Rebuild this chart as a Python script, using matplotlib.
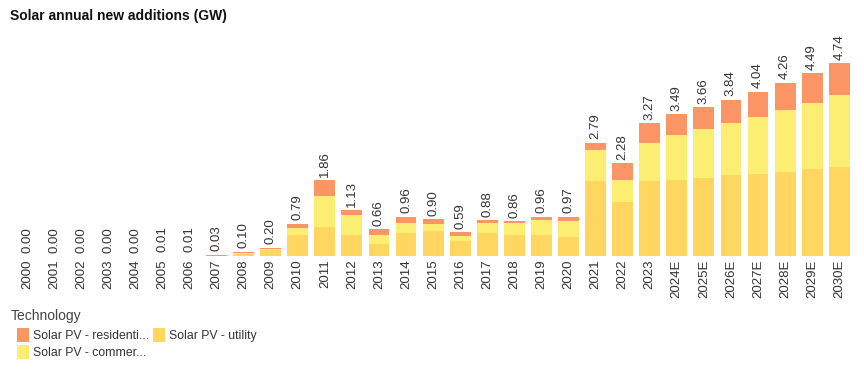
import matplotlib
matplotlib.use("Agg")
import matplotlib.pyplot as plt
import numpy as np

plt.rcParams['font.family'] = ['Liberation Sans', 'DejaVu Sans']

years = ["2000", "2001", "2002", "2003", "2004", "2005", "2006", "2007", "2008", "2009",
         "2010", "2011", "2012", "2013", "2014", "2015", "2016", "2017", "2018", "2019",
         "2020", "2021", "2022", "2023", "2024E", "2025E", "2026E", "2027E", "2028E",
         "2029E", "2030E"]
utility = [0, 0, 0, 0, 0, 0, 0, 0.005, 0.04, 0.15,
           0.52, 0.71, 0.52, 0.30, 0.56, 0.61, 0.37, 0.56, 0.52, 0.52,
           0.47, 1.84, 1.33, 1.84, 1.88, 1.93, 1.98, 2.02, 2.07, 2.13, 2.19]
commercial = [0, 0, 0, 0, 0, 0, 0, 0.005, 0.03, 0.02,
              0.18, 0.77, 0.48, 0.22, 0.25, 0.18, 0.13, 0.25, 0.29, 0.36,
              0.38, 0.76, 0.55, 0.95, 1.09, 1.19, 1.28, 1.39, 1.51, 1.62, 1.77]
residential = [0, 0, 0, 0, 0, 0.005, 0.01, 0.02, 0.03, 0.03,
               0.09, 0.38, 0.13, 0.14, 0.15, 0.11, 0.09, 0.07, 0.05, 0.08,
               0.12, 0.19, 0.40, 0.48, 0.52, 0.54, 0.58, 0.63, 0.68, 0.74, 0.78]
totals = [0.00, 0.00, 0.00, 0.00, 0.00, 0.01, 0.01, 0.03, 0.10, 0.20,
          0.79, 1.86, 1.13, 0.66, 0.96, 0.90, 0.59, 0.88, 0.86, 0.96,
          0.97, 2.79, 2.28, 3.27, 3.49, 3.66, 3.84, 4.04, 4.26, 4.49, 4.74]

c_res = "#FC9566"
c_com = "#FBEE73"
c_util = "#FFD660"

fig = plt.figure(figsize=(8.64, 3.75), dpi=100)
ax = fig.add_axes([0.0156, 0.3173, 0.9714, 0.564])

x = np.arange(len(years))
u = np.array(utility)
c = np.array(commercial)
r = np.array(residential)
w = 0.77
ax.bar(x, u, w, color=c_util, edgecolor='none', label="Solar PV - utility")
ax.bar(x, c, w, bottom=u, color=c_com, edgecolor='none', label="Solar PV - commer...")
ax.bar(x, r, w, bottom=u + c, color=c_res, edgecolor='none', label="Solar PV - residenti...")

tops = u + c + r
for xi, t, lab in zip(x, tops, totals):
    ax.annotate(f"{lab:.2f}", (xi, t), xytext=(0, 2.5), textcoords='offset points',
                rotation=90, ha='center', va='bottom', fontsize=9.5, color='#333333')

ax.set_xlim(-0.5, len(years) - 0.5)
ax.set_ylim(0, 5.2)
ax.set_xticks(x)
ax.set_xticklabels(years, rotation=90, fontsize=9.5, color='#333333')
ax.tick_params(axis='x', length=0, pad=2.5)
ax.set_yticks([])
for s in ax.spines.values():
    s.set_visible(False)

fig.text(0.012, 0.957, "Solar annual new additions (GW)", fontsize=10, fontweight='bold',
         color='#111111', va='center', ha='left')
fig.text(0.013, 1 - 316 / 375, "Technology", fontsize=10, color='#444444',
         va='center', ha='left')

handles, labels = ax.get_legend_handles_labels()
order = [2, 1, 0]
leg = fig.legend([handles[i] for i in order], [labels[i] for i in order],
                 loc='upper left', bbox_to_anchor=(17 / 864, 1 - 328 / 375), ncol=2,
                 frameon=False, fontsize=8.8, borderpad=0,
                 handlelength=1.0, handleheight=1.4, handletextpad=0.33,
                 columnspacing=0.3, labelspacing=0.2, borderaxespad=0)
for t in leg.get_texts():
    t.set_color('#333333')

fig.savefig("out.png", dpi=100)
